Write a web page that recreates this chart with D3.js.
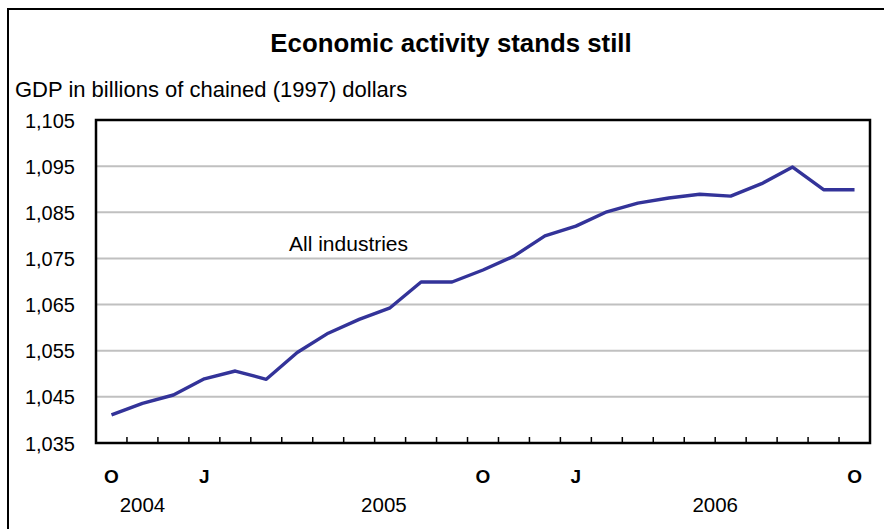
<!DOCTYPE html>
<html>
<head>
<meta charset="utf-8">
<script src="https://cdn.jsdelivr.net/npm/d3@7"></script>
<style>
  body { margin: 0; background: #fff; }
  text { font-family: "Liberation Sans", Arial, sans-serif; fill: #000; }
</style>
</head>
<body>
<div class="chart"></div>
<script>
// datos: PIB mensual, oct 2004 - oct 2006
const months = ["O","N","D","J","F","M","A","M","J","J","A","S","O","N","D","J","F","M","A","M","J","J","A","S","O"];
const gdp = [1041.1, 1043.6, 1045.4, 1048.9, 1050.6, 1048.8, 1054.6, 1058.8, 1061.8, 1064.3,
             1069.9, 1069.9, 1072.5, 1075.5, 1079.9, 1082.0, 1085.1, 1087.0, 1088.1, 1088.9,
             1088.5, 1091.2, 1094.8, 1089.9, 1089.9];
const shownMonths = [0, 3, 12, 15, 24];          // meses con etiqueta (O, J, O, J, O)
const years = ["2004", "2005", "2006"];
const yearAt = [1, 8.8, 19.5];                   // posicion (en indice de mes) de cada año
const yTicks = [1035, 1045, 1055, 1065, 1075, 1085, 1095, 1105];

document.addEventListener("DOMContentLoaded", function() {
  const W = 884, H = 529;
  const margin = {left: 96, right: 14, top: 120, bottom: 86};

  const svg = d3.select(".chart").append("svg")
    .attr("width", W)
    .attr("height", H);

  // marco exterior
  svg.append("rect")
    .attr("x", 8).attr("y", 9)
    .attr("width", W).attr("height", H)
    .attr("fill", "none").attr("stroke", "#000").attr("stroke-width", 2);

  svg.append("text")
    .attr("x", 451).attr("y", 52)
    .attr("text-anchor", "middle")
    .attr("font-size", 25.8).attr("font-weight", "bold")
    .text("Economic activity stands still");

  svg.append("text")
    .attr("x", 15).attr("y", 97)
    .attr("font-size", 22)
    .text("GDP in billions of chained (1997) dollars");

  const x = d3.scaleBand()
    .domain(d3.range(months.length))
    .range([margin.left, W - margin.right]);

  const y = d3.scaleLinear()
    .domain([1035, 1105])
    .range([H - margin.bottom, margin.top]);

  const mid = i => x(0) + x.step() * (i + 0.5);

  // lineas de la cuadricula
  svg.append("g")
    .selectAll("line")
    .data(yTicks.slice(1, -1))
    .enter()
    .append("line")
    .attr("x1", margin.left).attr("x2", W - margin.right)
    .attr("y1", d => y(d)).attr("y2", d => y(d))
    .attr("stroke", "#c0c0c0").attr("stroke-width", 2);

  // eje y: solo etiquetas
  const yAxis = svg.append("g")
    .attr("transform", "translate(" + (margin.left - 21) + ",0)")
    .call(d3.axisLeft(y).tickValues(yTicks).tickSize(0).tickFormat(d3.format(",")));
  yAxis.select(".domain").remove();
  yAxis.selectAll("text").attr("font-size", 20).attr("x", 0).attr("dy", "0.35em");

  // marcas del eje x entre categorias, hacia arriba
  svg.append("g")
    .selectAll("line")
    .data(d3.range(1, months.length))
    .enter()
    .append("line")
    .attr("x1", d => x(d)).attr("x2", d => x(d))
    .attr("y1", H - margin.bottom).attr("y2", H - margin.bottom - 6)
    .attr("stroke", "#000").attr("stroke-width", 1.5);

  const line = d3.line()
    .x((d, i) => mid(i))
    .y(d => y(d));

  svg.append("path")
    .datum(gdp)
    .attr("d", line)
    .attr("fill", "none")
    .attr("stroke", "#333399")
    .attr("stroke-width", 3.4)
    .attr("stroke-linejoin", "round");

  // marco del area del grafico
  svg.append("rect")
    .attr("x", margin.left).attr("y", margin.top)
    .attr("width", W - margin.left - margin.right)
    .attr("height", H - margin.top - margin.bottom)
    .attr("fill", "none").attr("stroke", "#000").attr("stroke-width", 2.5);

  svg.append("text")
    .attr("x", 289).attr("y", 251)
    .attr("font-size", 21)
    .text("All industries");

  svg.append("g")
    .selectAll("text")
    .data(shownMonths)
    .enter()
    .append("text")
    .attr("x", d => mid(d)).attr("y", 483)
    .attr("text-anchor", "middle")
    .attr("font-size", 19).attr("font-weight", "bold")
    .text(d => months[d]);

  svg.append("g")
    .selectAll("text")
    .data(years)
    .enter()
    .append("text")
    .attr("x", (d, i) => mid(yearAt[i])).attr("y", 512)
    .attr("text-anchor", "middle")
    .attr("font-size", 20.5)
    .text(d => d);
});
</script>
</body>
</html>
